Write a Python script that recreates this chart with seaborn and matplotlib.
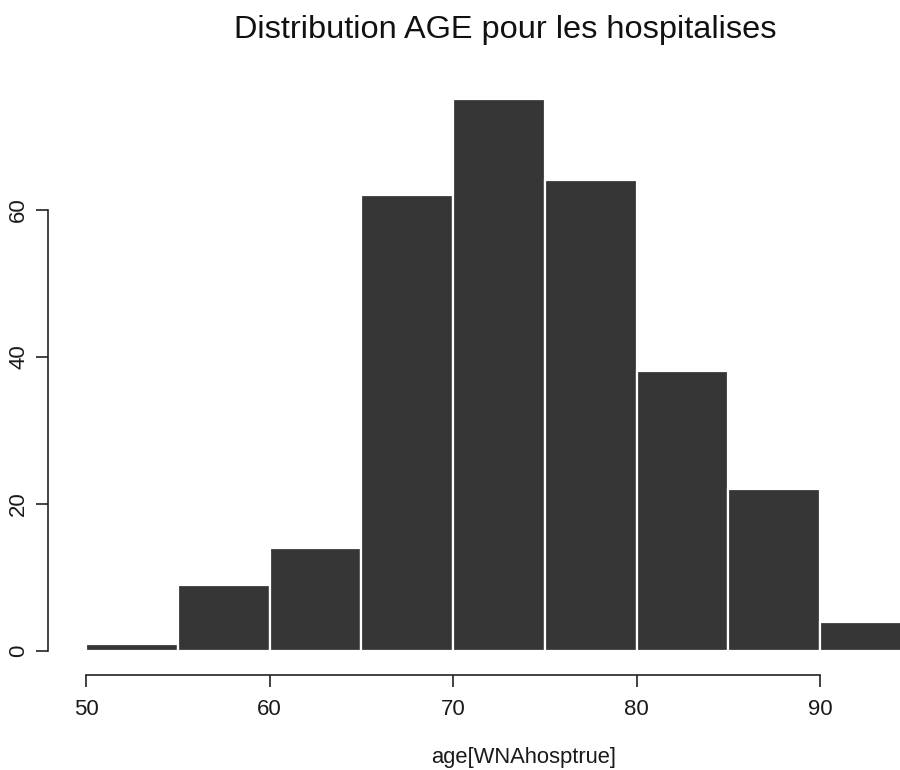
import numpy as np
import pandas as pd
import matplotlib
matplotlib.use("Agg")
import matplotlib.pyplot as plt
import seaborn as sns

# Data
bin_edges = [50, 55, 60, 65, 70, 75, 80, 85, 90, 95]
counts = [1, 9, 14, 62, 75, 64, 38, 22, 4]
x_ticks = [50, 60, 70, 80, 90]
y_ticks = [0, 20, 40, 60]
title = "Distribution AGE pour les hospitalises"
xlabel = "age[WNAhosptrue]"

centers = [(a + b) / 2 for a, b in zip(bin_edges[:-1], bin_edges[1:])]
df = pd.DataFrame({"age": centers, "n": counts})

sns.set_style("white")
plt.rcParams["font.family"] = ["Liberation Sans", "DejaVu Sans"]

W, H = 900, 770
fig = plt.figure(figsize=(W / 100, H / 100), dpi=100)
left_px, right_px, top_px, bottom_px = 48, 900, 60, 675
ax = fig.add_axes([left_px / W, (H - bottom_px) / H,
                   (right_px - left_px) / W, (bottom_px - top_px) / H])

sns.histplot(data=df, x="age", weights="n", bins=bin_edges, ax=ax,
             color="#363636", alpha=1, edgecolor="white", linewidth=1.6)

# scales matching the reference pixel layout
px_per_x = (820 - 86) / 40.0
px_per_y = (651 - 209.5) / 60.0
ax.set_xlim(50 - (86 - left_px) / px_per_x, 50 + (right_px - 86) / px_per_x)
ax.set_ylim(-(bottom_px - 651) / px_per_y, (651 - top_px) / px_per_y)

for s in ["top", "right"]:
    ax.spines[s].set_visible(False)
for s in ["left", "bottom"]:
    ax.spines[s].set_color("#222222")
    ax.spines[s].set_linewidth(1.2)
ax.spines["bottom"].set_bounds(50, 90)
ax.spines["left"].set_bounds(0, 60)

ax.set_xticks(x_ticks)
ax.set_yticks(y_ticks)
ax.set_yticklabels([str(v) for v in y_ticks], rotation=90, va="center")
ax.tick_params(axis="both", direction="out", length=8.5, width=1.2,
               bottom=True, left=True,
               color="#222222", labelsize=16, labelcolor="#1a1a1a")
ax.tick_params(axis="x", pad=9)
ax.tick_params(axis="y", pad=5)
ax.set_ylabel("")
ax.set_xlabel("")
ax.grid(False)

fig.text(524 / W, 1 - 757 / H, xlabel, ha="center", va="center",
         fontsize=15.8, color="#1a1a1a")
fig.text(505 / W, 1 - 30 / H, title, ha="center", va="center",
         fontsize=23.4, color="#111111")

fig.savefig("out.png", dpi=100)
